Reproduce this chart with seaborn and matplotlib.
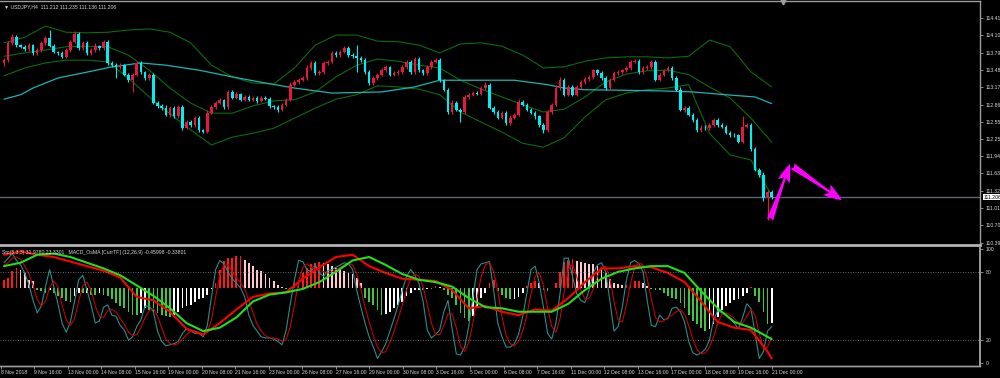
import numpy as np
import matplotlib
matplotlib.use('Agg')
import matplotlib.pyplot as plt
import matplotlib.transforms as mtrans
import seaborn as sns

# USDJPY H4 closes (one per bar, 8 Nov - 21 Dec 2018)
first_open = 113.61
closes = [
    113.66, 113.97, 114.08, 113.93, 113.90, 113.86, 113.93, 113.79, 113.84, 113.97,
    114.06, 113.92, 113.81, 113.79, 113.72, 113.84, 113.99, 114.13, 113.88, 113.97,
    113.79, 113.84, 113.92, 113.88, 113.99, 113.61, 113.57, 113.54, 113.57, 113.40,
    113.31, 113.40, 113.61, 113.45, 113.34, 113.40, 112.90, 112.84, 112.81, 112.68,
    112.81, 112.65, 112.82, 112.45, 112.56, 112.50, 112.63, 112.41, 112.38, 112.72,
    112.82, 112.90, 112.95, 112.82, 113.09, 112.99, 113.06, 112.95, 113.00, 112.95,
    112.99, 112.93, 112.99, 112.97, 112.84, 112.82, 112.77, 112.86, 112.95, 113.22,
    113.27, 113.31, 113.34, 113.52, 113.61, 113.43, 113.45, 113.61, 113.63, 113.79,
    113.75, 113.81, 113.88, 113.75, 113.73, 113.70, 113.66, 113.45, 113.25, 113.34,
    113.40, 113.48, 113.54, 113.40, 113.43, 113.45, 113.54, 113.63, 113.45, 113.68,
    113.48, 113.43, 113.54, 113.63, 113.66, 113.31, 113.13, 112.73, 112.90, 112.77,
    112.73, 113.00, 113.04, 113.07, 113.06, 113.16, 113.22, 112.81, 112.73, 112.63,
    112.72, 112.54, 112.63, 112.68, 112.91, 112.86, 112.77, 112.72, 112.65, 112.50,
    112.41, 112.73, 112.86, 113.16, 113.31, 113.04, 113.18, 113.04, 113.18, 113.27,
    113.32, 113.36, 113.48, 113.43, 113.34, 113.16, 113.31, 113.43, 113.45, 113.48,
    113.52, 113.63, 113.65, 113.45, 113.52, 113.54, 113.63, 113.31, 113.40, 113.48,
    113.52, 113.34, 113.13, 112.77, 112.81, 112.68, 112.59, 112.41, 112.45, 112.44,
    112.50, 112.59, 112.50, 112.47, 112.36, 112.32, 112.31, 112.20, 112.47, 112.50,
    112.06, 111.70, 111.61, 111.19, 111.30, 111.206,
]
# wick lengths above / below the body, in hundredths of a yen
wick_hi = [
    4, 3, 5, 3, 2, 3, 3, 2, 4, 3,  4, 14, 3, 2, 3, 4, 3, 5, 3, 4,
    3, 3, 4, 2, 3, 3, 4, 3, 3, 2,  3, 3, 4, 3, 2, 3, 3, 2, 3, 4,
    3, 2, 4, 3, 3, 2, 3, 3, 2, 4,  3, 3, 3, 2, 4, 3, 3, 2, 3, 3,
    2, 3, 3, 2, 3, 2, 3, 3, 4, 4,  3, 3, 3, 5, 4, 3, 3, 4, 3, 4,
    3, 3, 4, 3, 3, 20, 3, 3, 3, 3, 3, 4, 3, 2, 3, 3, 4, 3, 3, 4,
    3, 3, 3, 4, 3, 3, 2, 3, 4, 3,  3, 4, 3, 3, 3, 4, 5, 3, 3, 3,
    3, 3, 4, 3, 5, 3, 3, 3, 3, 2,  3, 4, 3, 5, 4, 3, 4, 3, 3, 4,
    3, 3, 3, 3, 3, 4, 3, 3, 3, 3,  3, 4, 3, 3, 3, 3, 4, 4, 3, 3,
    3, 3, 3, 4, 3, 3, 3, 3, 5, 4,  4, 3, 4, 3, 3, 3, 3, 3, 18, 4,
    4, 4, 3, 4, 3, 3,
]
wick_lo = [
    5, 4, 3, 4, 3, 3, 4, 3, 3, 4,  3, 3, 3, 4, 3, 3, 3, 3, 4, 3,
    3, 4, 3, 3, 3, 4, 3, 20, 4, 3, 4, 22, 3, 3, 4, 3, 3, 3, 4, 3,
    4, 3, 3, 5, 3, 3, 4, 4, 3, 3,  3, 3, 3, 3, 3, 3, 2, 3, 3, 3,
    3, 3, 2, 3, 3, 3, 4, 3, 3, 3,  3, 3, 3, 3, 3, 3, 3, 3, 3, 3,
    3, 3, 3, 3, 3, 25, 3, 3, 4, 3, 3, 3, 3, 3, 3, 3, 3, 3, 3, 3,
    3, 3, 3, 3, 3, 4, 3, 4, 3, 3,  18, 3, 3, 3, 3, 3, 3, 3, 4, 3,
    3, 5, 4, 3, 3, 3, 3, 3, 4, 4,  5, 3, 3, 3, 3, 3, 3, 3, 3, 3,
    3, 3, 3, 3, 3, 3, 3, 3, 3, 3,  3, 3, 3, 3, 3, 3, 3, 3, 3, 3,
    3, 3, 3, 3, 4, 3, 3, 4, 3, 3,  3, 3, 3, 3, 3, 3, 3, 3, 3, 3,
    3, 3, 4, 5, 39, 3,
]

# Bollinger bands (sampled every 5 bars) and long moving average
band_bars = list(range(0, 186, 5))
bb_upper = [
    113.97, 114.07, 114.27, 114.16, 114.15, 114.16, 114.20, 114.22, 114.16, 113.97,
    113.57, 113.36, 113.25, 113.23, 113.52, 113.93, 114.11, 114.11, 114.00, 113.99,
    113.93, 113.79, 113.95, 113.97, 113.91, 113.75, 113.52, 113.54, 113.64, 113.70,
    113.72, 113.72, 113.70, 113.73, 114.02, 113.90, 113.45, 113.18,
]
bb_mid = [
    113.73, 113.79, 113.84, 113.90, 113.91, 113.90, 113.75, 113.48, 113.16, 112.89,
    112.71, 112.71, 112.84, 112.93, 112.95, 113.09, 113.36, 113.57, 113.68, 113.64,
    113.57, 113.52, 113.30, 113.14, 113.00, 112.86, 112.73, 112.78, 113.00, 113.27,
    113.41, 113.47, 113.48, 113.40, 113.18, 112.98, 112.62, 112.19,
]
bb_lower = [
    113.38, 113.52, 113.61, 113.66, 113.66, 113.63, 113.34, 113.00, 112.70, 112.41,
    112.14, 112.28, 112.35, 112.44, 112.62, 112.80, 112.96, 113.04, 113.20, 113.18,
    113.14, 113.04, 112.73, 112.55, 112.37, 112.17, 112.10, 112.27, 112.64, 112.95,
    113.07, 113.13, 113.16, 113.22, 112.35, 111.96, 111.87, 111.24,
]
ma_bars = [0, 4, 7, 13, 19, 26, 33, 39, 47, 55, 63, 70, 79, 91, 99, 105, 115, 123,
           131, 135, 140, 158, 166, 174, 181, 185]
ma_long = [112.96, 113.04, 113.16, 113.34, 113.43, 113.54, 113.61, 113.57, 113.48,
           113.36, 113.25, 113.16, 113.07, 113.09, 113.18, 113.30, 113.30, 113.30,
           113.22, 113.16, 113.13, 113.11, 113.09, 113.04, 113.00, 112.88]

price_ticks = [114.415, 114.105, 113.795, 113.485, 113.175, 112.865, 112.555,
               112.250, 111.940, 111.630, 111.320, 111.010, 110.700, 110.390]
last_price = 111.206

# hand drawn arrows: start, turn, end (bar, price)
arrow_bar = [184.6, 189.4, 201.9]
arrow_price = [110.80, 111.80, 111.15]

# MACD OsMA histogram
osma = [
    0.11, 0.13, 0.22, 0.26, 0.24, 0.20, 0.11, 0.09, -0.02, -0.04,
    -0.06, -0.03, -0.07, -0.10, -0.13, -0.17, -0.18, -0.11, -0.07, -0.07,
    -0.06, -0.09, -0.09, -0.07, -0.09, -0.11, -0.15, -0.20, -0.24, -0.26,
    -0.31, -0.35, -0.36, -0.33, -0.26, -0.29, -0.31, -0.33, -0.35, -0.37,
    -0.38, -0.35, -0.31, -0.26, -0.24, -0.22, -0.19, -0.15, -0.13, -0.09,
    -0.01, 0.07, 0.24, 0.35, 0.39, 0.39, 0.42, 0.42, 0.37, 0.33,
    0.29, 0.24, 0.22, 0.18, 0.13, 0.09, 0.04, 0.01, -0.01, -0.02,
    0.07, 0.11, 0.20, 0.26, 0.31, 0.33, 0.34, 0.33, 0.31, 0.29,
    0.26, 0.24, 0.22, 0.20, 0.18, 0.13, 0.07, -0.13, -0.18, -0.22,
    -0.29, -0.35, -0.34, -0.31, -0.26, -0.22, -0.18, -0.11, -0.07, -0.03,
    -0.02, -0.02, -0.01, -0.01, 0.02, 0.01, -0.02, -0.09, -0.13, -0.22,
    -0.33, -0.39, -0.44, -0.37, -0.26, -0.13, -0.07, 0.07, 0.11, -0.04,
    -0.09, -0.13, -0.15, -0.14, -0.12, -0.07, 0.02, 0.07, 0.09, 0.07,
    -0.02, -0.04, 0.00, 0.07, 0.21, 0.34, 0.37, 0.38, 0.36, 0.34,
    0.33, 0.32, 0.31, 0.29, 0.26, 0.20, 0.12, 0.07, 0.05, 0.04,
    0.04, 0.07, 0.09, 0.09, 0.07, 0.02, -0.01, -0.02, -0.02, -0.06,
    -0.10, -0.13, -0.14, -0.20, -0.26, -0.36, -0.44, -0.48, -0.53, -0.56,
    -0.54, -0.48, -0.38, -0.29, -0.24, -0.20, -0.16, -0.14, -0.11, -0.07,
    0.01, -0.11, -0.18, -0.31, -0.47, -0.46,
]
# Stochastic (5,3,3) main and signal
sto_main = [
    88, 92, 96, 90, 86, 79, 69, 55, 44, 50,  67, 82, 67, 52, 35, 27, 36, 54, 73, 77,
    64, 51, 35, 37, 49, 51, 42, 41, 33, 29,  20, 23, 32, 38, 50, 50, 45, 28, 19, 15,
    16, 17, 19, 26, 30, 28, 26, 26, 23, 33,  58, 82, 90, 87, 80, 74, 70, 66, 58, 42,
    33, 28, 23, 22, 22, 21, 19, 16, 29, 52,  73, 90, 89, 82, 80, 86, 79, 76, 81, 82,
    84, 86, 88, 87, 82, 64, 49, 35, 23, 14,  4, 10, 17, 28, 39, 51, 64, 76, 82, 77,
    70, 54, 29, 22, 25, 29, 45, 55, 30, 8,   7, 14, 32, 58, 82, 87, 88, 89, 64, 35,
    23, 14, 14, 17, 25, 41, 61, 82, 85, 70,  49, 26, 21, 35, 61, 92, 92, 76, 61, 55,
    53, 64, 79, 86, 88, 80, 55, 28, 32, 49,  73, 88, 90, 87, 80, 55, 33, 32, 42, 38,
    39, 48, 49, 45, 36, 19, 9, 7, 9, 12,     20, 38, 46, 44, 42, 39, 35, 30, 40, 52,
    48, 26, 4, 10, 28, 32,
]
sto_signal = [
    86, 88, 92, 93, 91, 85, 78, 68, 56, 50,  54, 66, 72, 67, 51, 38, 33, 39, 54, 68,
    71, 64, 50, 41, 40, 46, 47, 45, 39, 34,  27, 24, 25, 31, 40, 46, 48, 41, 31, 21,
    17, 16, 17, 21, 25, 28, 28, 27, 25, 27,  38, 58, 77, 86, 86, 80, 75, 70, 65, 55,
    44, 34, 28, 24, 22, 22, 21, 19, 21, 32,  51, 72, 84, 87, 84, 83, 82, 80, 79, 80,
    82, 84, 86, 87, 86, 78, 65, 49, 36, 24,  14, 9, 10, 18, 28, 39, 51, 64, 74, 78,
    76, 67, 51, 35, 25, 25, 33, 43, 43, 31,  15, 10, 18, 35, 57, 76, 86, 88, 80, 63,
    41, 24, 17, 15, 19, 28, 42, 61, 76, 79,  68, 48, 32, 27, 39, 63, 82, 87, 76, 64,
    56, 57, 65, 76, 84, 85, 74, 54, 38, 36,  51, 70, 84, 88, 86, 74, 56, 40, 36, 37,
    40, 42, 45, 47, 43, 33, 21, 12, 8, 9,    14, 23, 35, 43, 44, 42, 39, 35, 35, 41,
    47, 42, 26, 13, 14, 23,
]
# the two smooth lines of the MACD_OsMA window (every 4 bars)
slow_bars = list(range(0, 185, 4)) + [185]
slow_red = [95, 98, 95, 93, 89, 85, 81, 75, 58, 55, 45, 30, 25, 35, 47, 58, 61, 62,
            74, 84, 93, 95, 85, 79, 74, 73, 72, 64, 48, 50, 45, 42, 47, 46, 57, 71,
            83, 83, 85, 84, 79, 71, 54, 36, 31, 29, 10, 4]
slow_green = [85, 88, 95, 96, 93, 88, 83, 77, 68, 59, 48, 35, 28, 31, 40, 54, 60, 62,
              65, 71, 80, 90, 93, 86, 78, 73, 71, 67, 57, 49, 48, 45, 45, 45, 52, 64,
              74, 80, 83, 85, 85, 79, 63, 48, 36, 31, 23, 21]

date_labels = ['8 Nov 2018', '9 Nov 16:00', '13 Nov 00:00', '14 Nov 08:00',
               '15 Nov 16:00', '19 Nov 00:00', '20 Nov 08:00', '21 Nov 16:00',
               '23 Nov 00:00', '26 Nov 08:00', '27 Nov 16:00', '29 Nov 00:00',
               '30 Nov 08:00', '3 Dec 16:00', '5 Dec 00:00', '6 Dec 08:00',
               '7 Dec 16:00', '11 Dec 00:00', '12 Dec 08:00', '13 Dec 16:00',
               '17 Dec 00:00', '18 Dec 08:00', '19 Dec 16:00', '21 Dec 00:00']

n = len(closes)
assert len(wick_hi) == n and len(wick_lo) == n and len(osma) == n
assert len(sto_main) == n and len(sto_signal) == n

sns.set_theme(style='dark', rc={'axes.facecolor': 'black', 'figure.facecolor': 'black'})
plt.rcParams['font.family'] = ['Liberation Sans', 'DejaVu Sans']
FS = 3.7
TXT = '#d8d8d8'
FRAME = '#9c9c9c'

fig = plt.figure(figsize=(10, 3.78), dpi=100, facecolor='black')
ax = fig.add_axes([0, 1 - 245 / 378, 0.98, 244 / 378])
ax2 = fig.add_axes([0, 1 - 366 / 378, 0.98, 118 / 378])
axs = ax2.twinx()
xlim = (-0.96, 235.2)

# ---- price window ----
idx = np.arange(n)
c = np.array(closes)
o = np.r_[first_open, c[:-1]]
hi = np.maximum(o, c) + np.array(wick_hi) / 100
lo = np.minimum(o, c) - np.array(wick_lo) / 100
col = np.where(c >= o, '#e8173f', '#00eef2')
ax.vlines(idx, lo, hi, colors=col, lw=0.8, zorder=3)
body = np.maximum(np.abs(c - o), 0.012)
ax.bar(idx, body, bottom=np.minimum(o, c), width=0.62, color=col, lw=0, zorder=4)

for band in (bb_upper, bb_mid, bb_lower):
    sns.lineplot(x=band_bars, y=band, ax=ax, color='#0d6b0d', lw=0.8, legend=False, zorder=2)
sns.lineplot(x=ma_bars, y=ma_long, ax=ax, color='#1cb4b4', lw=0.9, legend=False, zorder=2)

ax.axhline(last_price, color='#5b6672', lw=1.0, zorder=1)

pink = '#ff00ff'
astyle = 'fancy,head_length=1.1,head_width=0.75,tail_width=0.4'
ax.annotate('', xy=(arrow_bar[1], arrow_price[1]), xytext=(arrow_bar[0], arrow_price[0]),
            arrowprops=dict(arrowstyle=astyle, color=pink, lw=0, shrinkA=0, shrinkB=0),
            zorder=6)
ax.annotate('', xy=(arrow_bar[2], arrow_price[2]), xytext=(arrow_bar[1] + 0.6, arrow_price[1] - 0.04),
            arrowprops=dict(arrowstyle=astyle, color=pink, lw=0, shrinkA=0, shrinkB=0),
            zorder=6)

ax.set_xlim(*xlim)
ax.set_ylim(110.347, 114.72)
ax.yaxis.tick_right()
ax.set_yticks(price_ticks)
ax.set_yticklabels([f'{t:.3f}' for t in price_ticks])
ax.tick_params(axis='y', right=True, length=2.5, width=0.6, color=FRAME, colors=TXT,
               labelsize=FS, pad=1.5)
ax.tick_params(axis='x', bottom=False, labelbottom=False)
ax.set_xlabel('')
ax.set_ylabel('')
ax.grid(False)
ax.spines['left'].set_visible(False)
ax.spines['top'].set_color(FRAME)
ax.spines['top'].set_linewidth(1.0)
ax.spines['right'].set_color(FRAME)
ax.spines['right'].set_linewidth(1.0)
ax.spines['bottom'].set_color('#b4b4b4')
ax.spines['bottom'].set_linewidth(2.0)
ax.text(0.004, 0.985, '\u25bc USDJPY,H4  111.212 111.235 111.136 111.206', transform=ax.transAxes,
        fontsize=FS, color=TXT, va='top', ha='left')
trans = mtrans.blended_transform_factory(ax.transAxes, ax.transData)
ax.text(1.004, last_price, '111.206', transform=trans, fontsize=FS, color='black',
        va='center', ha='left', clip_on=False,
        bbox=dict(boxstyle='square,pad=0.15', fc='white', ec='none'))
ax.plot([187.7], [114.70], marker='v', color='#a0a0a0', ms=3.5, clip_on=False, zorder=7)

# ---- oscillator window ----
hcol = []
for i, v in enumerate(osma):
    prev = osma[i - 1] if i > 0 else 0
    if v >= 0:
        hcol.append('#ff1a1a' if v >= prev else '#ffc8d0')
    else:
        hcol.append('#3fc83f' if v <= prev else '#ffffff')
ax2.bar(idx, osma, width=0.42, color=hcol, lw=0)
ax2.set_ylim(-1.026, 0.526)
ax2.set_xlim(*xlim)

sns.lineplot(x=idx, y=sto_main, ax=axs, color='#2b8c8c', lw=0.8, legend=False)
sns.lineplot(x=idx, y=sto_signal, ax=axs, color='#c80000', lw=0.8, legend=False)
sns.lineplot(x=slow_bars, y=slow_red, ax=axs, color='#ff0000', lw=1.5, legend=False)
sns.lineplot(x=slow_bars, y=slow_green, ax=axs, color='#1ee01e', lw=1.5, legend=False)
for lvl in (80, 20):
    axs.axhline(lvl, color='#8a8a8a', lw=0.6, ls=(0, (1, 2)))
axs.set_ylim(-2.6, 100.9)
axs.set_yticks([0, 20, 80, 100])
axs.set_yticklabels(['0', '20', '80', '100'])
axs.tick_params(axis='y', right=True, length=2.5, width=0.6, color=FRAME, colors=TXT,
                labelsize=FS, pad=1.5)
axs.set_xlim(*xlim)
axs.set_ylabel('')
axs.grid(False)
ax2.grid(False)
ax2.tick_params(axis='y', left=False, labelleft=False)
tick_pos = np.linspace(-0.8, 185, len(date_labels))
ax2.set_xticks(tick_pos)
ax2.set_xticklabels(date_labels)
ax2.tick_params(axis='x', bottom=True, length=2, width=0.6, color=FRAME, colors=TXT,
                labelsize=FS, pad=1)
for lab in ax2.get_xticklabels():
    lab.set_ha('left')
for a in (ax2, axs):
    a.spines['left'].set_visible(False)
    a.spines['top'].set_visible(False)
    a.spines['right'].set_color(FRAME)
    a.spines['bottom'].set_color(FRAME)
    a.spines['bottom'].set_linewidth(1.0)
axs.text(0.002, 0.985, 'Sto(5,3,3) 31.9780 23.3301   MACD_OsMA [CurrTF] (12,26,9) -0.45998 -0.33801',
         transform=axs.transAxes, fontsize=FS, color=TXT, va='top', ha='left')

fig.savefig('out.png', dpi=100, facecolor='black')
